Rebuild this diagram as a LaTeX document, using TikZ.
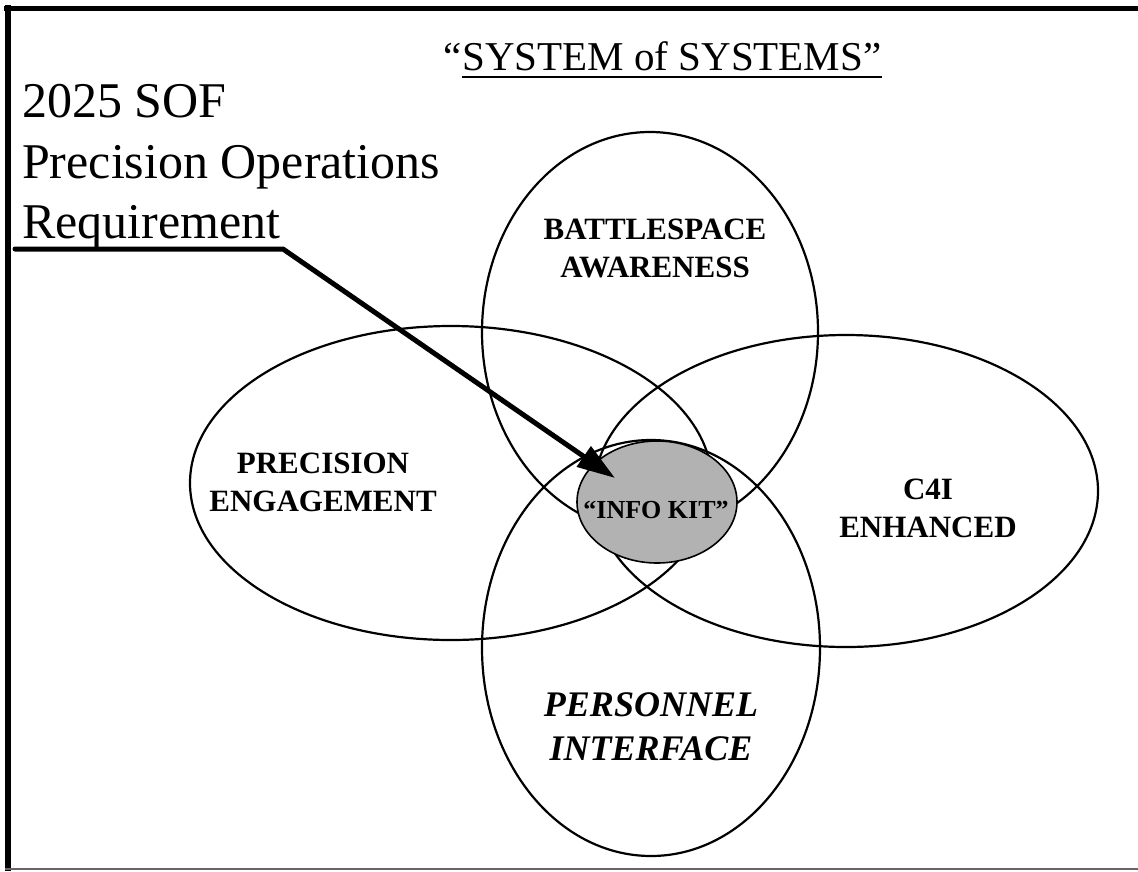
\documentclass[tikz,border=0pt]{standalone}
\usepackage{fontspec}
\setmainfont{Liberation Serif}
\usetikzlibrary{shapes.geometric,arrows.meta}
\begin{document}
\begin{tikzpicture}[x=1pt,y=-1pt,
  setell/.style={ellipse, draw, line width=2.2pt, inner sep=0pt},
  lab/.style={font=\fontsize{31}{38}\selectfont\bfseries, align=center, inner sep=0pt},
  labit/.style={font=\fontsize{36}{44}\selectfont\bfseries\itshape, align=center, inner sep=0pt},
  big/.style={font=\fontsize{50}{60}\selectfont, inner sep=0pt, anchor=base west},
  ttlfont/.style={font=\fontsize{41}{48}\selectfont, inner sep=0pt},
  arrowline/.style={line width=5pt, line cap=round, line join=round, -{Triangle[length=38pt,width=24pt]}}
]
\useasboundingbox (0,0) rectangle (1138,871);
% frame
\draw[line width=5pt] (4,8) -- (1138,8);
\draw[line width=6pt] (8,5) -- (8,871);
\draw[line width=1.5pt, black!60] (5,869) -- (1138,869);

% title
\node[ttlfont, anchor=base east] (q) at (462,70) {“};
\node[ttlfont, anchor=base west] (ttl) at (q.base east) {SYSTEM of SYSTEMS”};
\draw[line width=2pt] ([yshift=-7pt]ttl.base west) -- ([yshift=-7pt]ttl.base east);

% left text
\node[big] (l1) at (22,117) {2025 SOF};
\node[big] (l2) at (22,178) {Precision Operations};
\node[big] (l3) at (22,238) {Requirement};

% sets
\node[setell, minimum width=336pt, minimum height=400pt] (bsa) at (650,332) {};
\node[setell, minimum width=522pt, minimum height=314pt] (pe) at (451,483) {};
\node[setell, minimum width=504pt, minimum height=312pt] (c4i) at (846,491) {};
\node[setell, minimum width=338pt, minimum height=416pt] (pi) at (651,648) {};
\node[setell, line width=1.6pt, fill=black!30, minimum width=160pt, minimum height=122pt] (kit) at (657,502) {};

% labels
\node[lab] (bsal) at (655,248) {BATTLESPACE\\AWARENESS};
\node[lab] (pel) at (323,482) {PRECISION\\ENGAGEMENT};
\node[lab] (c4il) at (928,508) {C4I\\ENHANCED};
\node[labit] (pil) at (651,727) {PERSONNEL\\INTERFACE};
\node[inner sep=0pt, font=\fontsize{26}{30}\selectfont\bfseries] (kitl) at (656,510) {“INFO KIT”};

% arrow
\coordinate (ustart) at (15,249);
\coordinate (bend) at (283,249);
\coordinate (tip) at (615,478);
\draw[arrowline] (ustart) -- (bend) -- (tip);
\end{tikzpicture}
\end{document}
